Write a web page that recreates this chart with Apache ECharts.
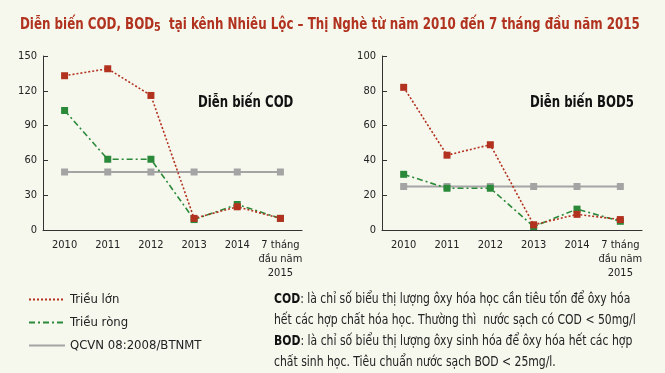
<!DOCTYPE html>
<html>
<head>
<meta charset="utf-8">
<script src="https://cdn.jsdelivr.net/npm/echarts@6/dist/echarts.min.js"></script>
<style>
html,body{margin:0;padding:0;background:#f6f8ee;}
#c{width:665px;height:373px;}
</style>
</head>
<body>
<div id="c"></div>
<script>
var categories = ['2010', '2011', '2012', '2013', '2014', '7 tháng\nđầu năm\n2015'];
var seriesNames = ['Triều lớn', 'Triều ròng', 'QCVN 08:2008/BTNMT'];
var codTrieuLon = [133, 139, 116, 10, 20, 10];
var codTrieuRong = [103, 61, 61, 9, 22, 10];
var codQCVN = [50, 50, 50, 50, 50, 50];
var bodTrieuLon = [82, 43, 49, 3, 9, 6];
var bodTrieuRong = [32, 24, 24, 2, 12, 5];
var bodQCVN = [25, 25, 25, 25, 25, 25];
var codTicks = [0, 30, 60, 90, 120, 150];
var bodTicks = [0, 20, 40, 60, 80, 100];

var FONT = "'DejaVu Sans Condensed', 'Liberation Sans Narrow', sans-serif";
var RED = '#b3311f', GREEN = '#2b8a3a', GREY = '#a4a4a4';

var chart = echarts.init(document.getElementById('c'));

function xAxis(idx) {
  return {
    type: 'category', gridIndex: idx, data: categories, boundaryGap: true,
    axisLine: { lineStyle: { color: '#333', width: 1 } },
    axisTick: { inside: true, length: 8, lineStyle: { color: '#333' } },
    axisLabel: { color: '#222', fontFamily: FONT, fontSize: 11, lineHeight: 14, margin: 8, interval: 0 }
  };
}
function yAxis(idx, ticks) {
  return {
    type: 'value', gridIndex: idx, min: ticks[0], max: ticks[ticks.length - 1],
    interval: ticks[1] - ticks[0],
    axisLine: { show: true, lineStyle: { color: '#333', width: 1 } },
    axisTick: { show: true, inside: true, length: 5, lineStyle: { color: '#333' } },
    splitLine: { show: false },
    axisLabel: { color: '#222', fontFamily: FONT, fontSize: 11, margin: 6 }
  };
}
function mkSeries(name, data, idx, color, type, width, z) {
  return {
    name: name, type: 'line', xAxisIndex: idx, yAxisIndex: idx, data: data,
    symbol: 'rect', symbolSize: 7, z: z, animation: false,
    lineStyle: { color: color, width: width, type: type },
    itemStyle: { color: color }
  };
}

var option = {
  backgroundColor: '#f6f8ee',
  animation: false,
  grid: [
    { left: 43, right: 363, top: 56, bottom: 143 },
    { left: 382, right: 23, top: 56, bottom: 143 }
  ],
  xAxis: [xAxis(0), xAxis(1)],
  yAxis: [yAxis(0, codTicks), yAxis(1, bodTicks)],
  legend: {
    orient: 'vertical', left: 23, top: 288,
    data: seriesNames,
    itemWidth: 36, itemHeight: 14, itemGap: 10,
    itemStyle: { opacity: 0 },
    textStyle: { color: '#222', fontFamily: FONT, fontSize: 13 },
    selectedMode: false
  },
  series: [
    mkSeries(seriesNames[2], codQCVN, 0, GREY, 'solid', 2, 2),
    mkSeries(seriesNames[1], codTrieuRong, 0, GREEN, [6, 3, 2, 3], 1.6, 3),
    mkSeries(seriesNames[0], codTrieuLon, 0, RED, [2, 2], 1.6, 4),
    mkSeries(seriesNames[2], bodQCVN, 1, GREY, 'solid', 2, 2),
    mkSeries(seriesNames[1], bodTrieuRong, 1, GREEN, [6, 3, 2, 3], 1.6, 3),
    mkSeries(seriesNames[0], bodTrieuLon, 1, RED, [2, 2], 1.6, 4)
  ],
  graphic: [
    {
      type: 'text', x: 20, y: 16, scaleX: 0.825,
      style: {
        text: 'Diễn biến COD, BOD{s|5}  tại kênh Nhiêu Lộc – Thị Nghè từ năm 2010 đến 7 tháng đầu năm 2015',
        fill: '#b0321f', font: 'bold 16px ' + FONT,
        rich: { s: { fill: '#b0321f', fontFamily: FONT, fontWeight: 'bold', fontSize: 13, padding: [5, 0, 0, 0] } }
      }
    },
    {
      type: 'text', x: 198, y: 96, scaleX: 0.87,
      style: { text: 'Diễn biến COD', fill: '#111', font: 'bold 15px ' + FONT }
    },
    {
      type: 'text', x: 530, y: 96, scaleX: 0.87,
      style: { text: 'Diễn biến BOD5', fill: '#111', font: 'bold 15px ' + FONT }
    },
    {
      type: 'text', x: 274, y: 289, scaleX: 0.86,
      style: {
        text: '{b|COD}: là chỉ số biểu thị lượng ôxy hóa học cần tiêu tốn để ôxy hóa\nhết các hợp chất hóa học. Thường thì  nước sạch có COD < 50mg/l\n{b|BOD}: là chỉ số biểu thị lượng ôxy sinh hóa để ôxy hóa hết các hợp\nchất sinh học. Tiêu chuẩn nước sạch BOD < 25mg/l.',
        fill: '#222', font: '14px ' + FONT, lineHeight: 21,
        rich: { b: { fontWeight: 'bold', fontFamily: FONT, fontSize: 14, fill: '#111', lineHeight: 21 } }
      }
    }
  ]
};
chart.setOption(option);
</script>
</body>
</html>
